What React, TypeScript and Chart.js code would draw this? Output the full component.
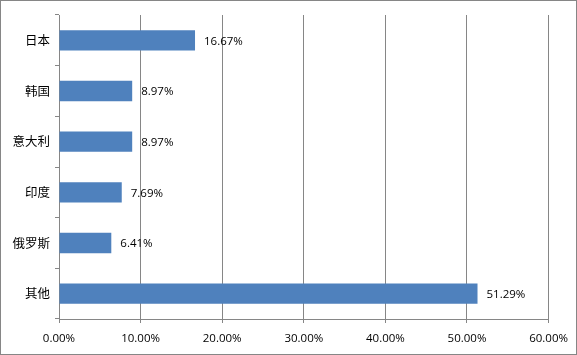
import React, { useEffect, useRef } from "react";
import { Chart, registerables } from "chart.js";

Chart.register(...registerables);

const categories = ["日本", "韩国", "意大利", "印度", "俄罗斯", "其他"];
const shares = [16.67, 8.97, 8.97, 7.69, 6.41, 51.29];
const xTicks = [0, 10, 20, 30, 40, 50, 60];

const GRID = "#868686";
const BAR = "#4F81BD";
const NUM_FONT = "'Open Sans', 'Liberation Sans', sans-serif";
const CJK_FONT = "'Noto Sans CJK SC', sans-serif";

const borderPlugin = {
  id: "outerBorder",
  afterDraw(chart: any) {
    const ctx = chart.ctx;
    ctx.save();
    ctx.strokeStyle = GRID;
    ctx.lineWidth = 1;
    ctx.strokeRect(0.5, 0.5, chart.width - 1, chart.height - 1);
    ctx.restore();
  },
};

const labelPlugin = {
  id: "barLabels",
  afterDatasetsDraw(chart: any) {
    const ctx = chart.ctx;
    const meta = chart.getDatasetMeta(0);
    ctx.save();
    ctx.font = `11.5px ${NUM_FONT}`;
    ctx.fillStyle = "#000";
    ctx.textAlign = "left";
    ctx.textBaseline = "middle";
    meta.data.forEach((bar: any, i: number) => {
      ctx.fillText(shares[i].toFixed(2) + "%", bar.x + 9, bar.y + 1);
    });
    ctx.restore();
  },
};

export default function App() {
  const ref = useRef<HTMLCanvasElement>(null);
  useEffect(() => {
    document.body.style.margin = "0";
    const chart = new Chart(ref.current!, {
      type: "bar",
      data: {
        labels: categories,
        datasets: [
          {
            data: shares,
            backgroundColor: BAR,
            borderWidth: 0,
            categoryPercentage: 1,
            barPercentage: 0.4,
          },
        ],
      },
      options: {
        indexAxis: "y",
        responsive: false,
        animation: false,
        devicePixelRatio: 1,
        layout: { padding: { left: 0, right: 27, top: 15, bottom: 0 } },
        plugins: { legend: { display: false }, tooltip: { enabled: false } },
        scales: {
          x: {
            min: 0,
            max: 60,
            afterFit: (s: any) => {
              s.height = 36;
            },
            afterBuildTicks: (s: any) => {
              s.ticks = xTicks.map((v) => ({ value: v }));
            },
            ticks: {
              callback: (v: any) => Number(v).toFixed(2) + "%",
              color: "#000",
              font: { family: NUM_FONT, size: 11.5 },
              padding: 9,
              maxRotation: 0,
            },
            grid: { color: GRID, tickLength: 4, lineWidth: 1 },
            border: { display: true, color: GRID },
          },
          y: {
            afterFit: (s: any) => {
              s.width = 59;
            },
            ticks: {
              color: "#000",
              font: { family: CJK_FONT, size: 12.5 },
              padding: 5,
            },
            grid: {
              color: GRID,
              tickLength: 4,
              drawOnChartArea: false,
              offset: true,
            },
            border: { display: true, color: GRID },
          },
        },
      },
      plugins: [labelPlugin, borderPlugin],
    });
    return () => chart.destroy();
  }, []);
  return (
    <div style={{ width: 577, height: 355 }}>
      <canvas ref={ref} width={577} height={355} />
    </div>
  );
}
